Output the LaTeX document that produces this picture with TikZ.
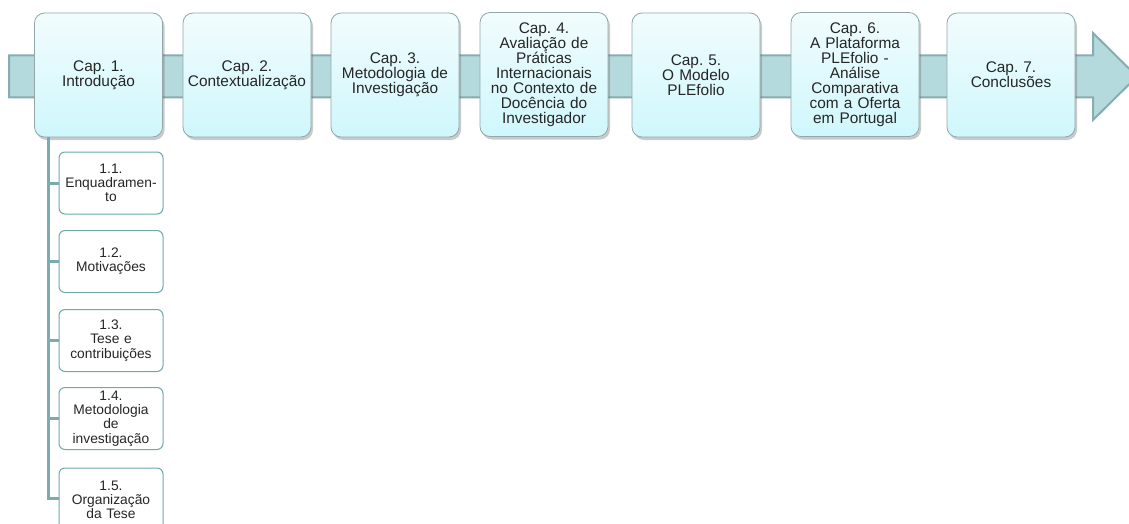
\documentclass[tikz,border=0pt]{standalone}
\usepackage{fontspec}
\setmainfont{Liberation Sans}
\usetikzlibrary{shadows}
\frenchspacing
\definecolor{bandfill}{HTML}{B5DADD}
\definecolor{bandline}{HTML}{86ADB0}
\definecolor{boxtop}{HTML}{F2FCFD}
\definecolor{boxbot}{HTML}{CFF7FC}
\definecolor{boxline}{HTML}{93A7AA}
\definecolor{subline}{HTML}{6FA8AE}
\definecolor{treeline}{HTML}{7CAAAF}
\definecolor{txt}{HTML}{262626}
\tikzset{
  chap/.style={draw=boxline, line width=0.8pt, rounded corners=10pt,
    top color=boxtop, bottom color=boxbot, minimum width=128pt, minimum height=124pt,
    text width=124pt, align=center, inner sep=0pt, text=txt,
    font=\fontsize{15.4}{15}\selectfont\frenchspacing,
    drop shadow={shadow xshift=2pt, shadow yshift=-3pt, opacity=0.35, fill=black!60}},
  sub/.style={draw=subline, line width=1pt, rounded corners=6pt, fill=white,
    minimum width=104pt, minimum height=62pt, text width=102pt, align=center,
    inner sep=0pt, text=txt, font=\fontsize{13.8}{14.2}\selectfont\frenchspacing},
  tree/.style={draw=treeline, line width=3pt}
}
\begin{document}
\begin{tikzpicture}[x=1pt,y=-1pt]
\useasboundingbox (0,0) rectangle (1129,524);
\begin{scope}
\clip (0,0) rectangle (1129,524);
% big arrow band
\draw[fill=bandfill, draw=bandline, line width=2pt, line join=miter]
  (9,55.5) -- (1093,55.5) -- (1093,33) -- (1137,76.5) -- (1093,120) -- (1093,97.5) -- (9,97.5) -- cycle;
% tree line
\coordinate (t0) at (48,137);
\coordinate (tb) at (48,498);
% chapter boxes
\node[chap] (c1) at (98.5,75) {Cap. 1.\\Introdução};
\node[chap] (c2) at (247,75) {Cap. 2.\\Contextualização};
\node[chap] (c3) at (395,75) {Cap. 3.\\Metodologia de\\Investigação};
\node[chap] (c4) at (544,74.5) {Cap. 4.\\Avaliação de\\Práticas\\Internacionais\\no Contexto de\\Docência do\\Investigador};
\node[chap] (c5) at (696,75) {Cap. 5.\\O Modelo\\PLEfolio};
\node[chap] (c6) at (855,74.5) {Cap. 6.\\A Plataforma\\PLEfolio -\\Análise\\Comparativa\\com a Oferta\\em Portugal};
\node[chap] (c7) at (1011,75) {Cap. 7.\\Conclusões};
% sub boxes
\node[sub] (s1) at (111,183) {1.1.\\Enquadramen-\\to};
\node[sub] (s2) at (111,261.5) {1.2.\\Motivações};
\node[sub] (s3) at (111,340.5) {1.3.\\Tese e\\contribuições};
\node[sub] (s4) at (111,418.5) {1.4.\\Metodologia\\de\\investigação};
\node[sub, minimum height=64pt] (s5) at (111,500) {1.5.\\Organização\\da Tese};
\foreach \s in {s1,s2,s3,s4} {
  \draw[tree] (t0 |- \s.west) -- (\s.west);
}
\draw[tree, line join=miter] (t0) -- (tb) -- (tb -| s5.west);
\end{scope}
\end{tikzpicture}
\end{document}
